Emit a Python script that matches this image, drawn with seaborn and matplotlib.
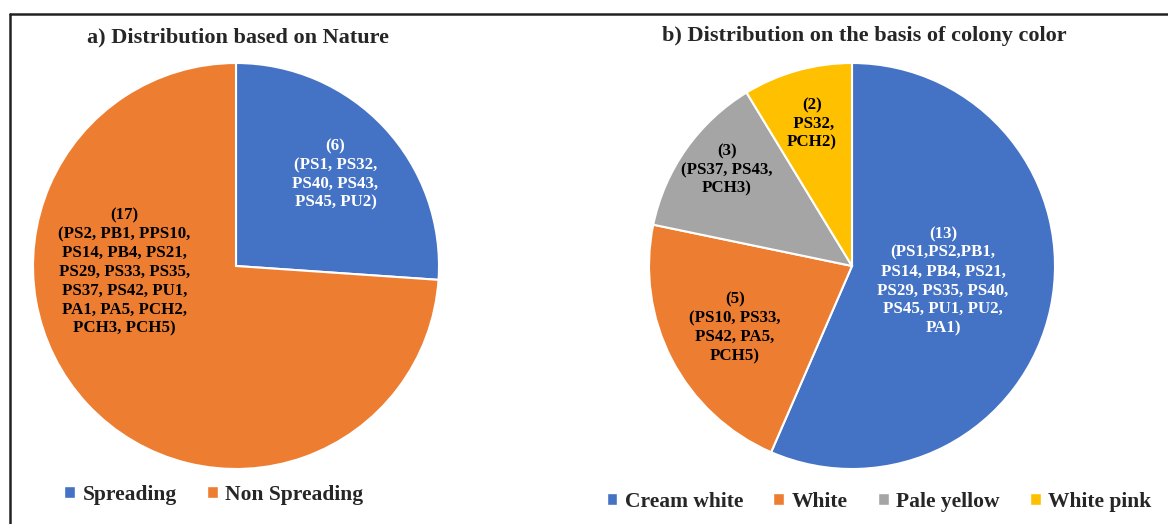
import matplotlib
matplotlib.use('Agg')

import matplotlib.pyplot as plt
from matplotlib.patches import Patch
from matplotlib.lines import Line2D
import seaborn as sns

# ---------------- DATA ----------------
nature_labels = ["Spreading", "Non Spreading"]
nature_counts = [6, 17]
nature_text = [
    "(6)\n(PS1, PS32,\nPS40, PS43,\nPS45, PU2)",
    "(17)\n(PS2, PB1, PPS10,\nPS14, PB4, PS21,\nPS29, PS33, PS35,\nPS37, PS42, PU1,\nPA1, PA5, PCH2,\nPCH3, PCH5)",
]

color_labels = ["Cream white", "White", "Pale yellow", "White pink"]
color_counts = [13, 5, 3, 2]
color_text = [
    "(13)\n(PS1,PS2,PB1,\nPS14, PB4, PS21,\nPS29, PS35, PS40,\nPS45, PU1, PU2,\nPA1)",
    "(5)\n(PS10, PS33,\nPS42, PA5,\nPCH5)",
    "(3)\n(PS37, PS43,\nPCH3)",
    "(2)\n PS32,\nPCH2)",
]
# --------------------------------------

sns.set_theme(style="white")
plt.rcParams['font.family'] = ['Liberation Serif', 'DejaVu Serif']
plt.rcParams['font.weight'] = 'bold'

palette = sns.color_palette(["#4472C4", "#ED7D31", "#A5A5A5", "#FFC000"])

fig = plt.figure(figsize=(11.68, 5.24), dpi=100)

# frame lines (top and left, as in the cropped source)
fig.add_artist(Line2D([0.0085, 1.0], [1 - 14 / 524, 1 - 14 / 524], color="#222222", lw=1.8,
                      transform=fig.transFigure))
fig.add_artist(Line2D([0.0085, 0.0085], [0.0, 1 - 14 / 524], color="#222222", lw=1.8,
                      transform=fig.transFigure))

ax1 = fig.add_axes([33 / 1168, 55 / 524, 406 / 1168, 406 / 524])
ax2 = fig.add_axes([649 / 1168, 55 / 524, 406 / 1168, 406 / 524])


def draw_pie(ax, counts, colors):
    wedges, _ = ax.pie(counts, colors=colors, startangle=90, counterclock=False,
                       radius=1.0, wedgeprops=dict(edgecolor="white", linewidth=1.5))
    ax.set_xlim(-1.0, 1.0)
    ax.set_ylim(-1.0, 1.0)
    ax.set_aspect("equal")
    ax.axis("off")
    return wedges


draw_pie(ax1, nature_counts, palette[:2])
draw_pie(ax2, color_counts, palette[:4])

# data labels, positioned like the Excel original
lab_kw = dict(ha="center", va="center", fontsize=12.2, fontweight="bold", linespacing=1.23)
ax1.text(0.49, 0.45, nature_text[0], color="white", **lab_kw)
ax1.text(-0.55, -0.03, nature_text[1], color="black", **lab_kw)

ax2.text(0.448, -0.074, color_text[0], color="white", **lab_kw)
ax2.text(-0.576, -0.305, color_text[1], color="black", **lab_kw)
ax2.text(-0.616, 0.473, color_text[2], color="black", **lab_kw)
ax2.text(-0.197, 0.70, color_text[3], color="black", **lab_kw)

# titles
fig.text(238 / 1168, 1 - 37 / 524, "a) Distribution based on Nature",
         ha="center", va="center", fontsize=16, fontweight="bold")
fig.text(864 / 1168, 1 - 36 / 524, "b) Distribution on the basis of colony color",
         ha="center", va="center", fontsize=16, fontweight="bold")

# legends
leg_kw = dict(loc="center", frameon=False, ncol=4, handlelength=0.5, handleheight=0.5,
              handletextpad=0.35, columnspacing=1.4, prop=dict(weight="bold", size=15.5))
h1 = [Patch(facecolor=palette[i], label=nature_labels[i]) for i in range(2)]
fig.legend(handles=h1, bbox_to_anchor=(214 / 1168, 1 - 495 / 524), **leg_kw)
h2 = [Patch(facecolor=palette[i], label=color_labels[i]) for i in range(4)]
fig.legend(handles=h2, bbox_to_anchor=(879 / 1168, 1 - 502 / 524), **leg_kw)

fig.savefig("out.png", dpi=100)
